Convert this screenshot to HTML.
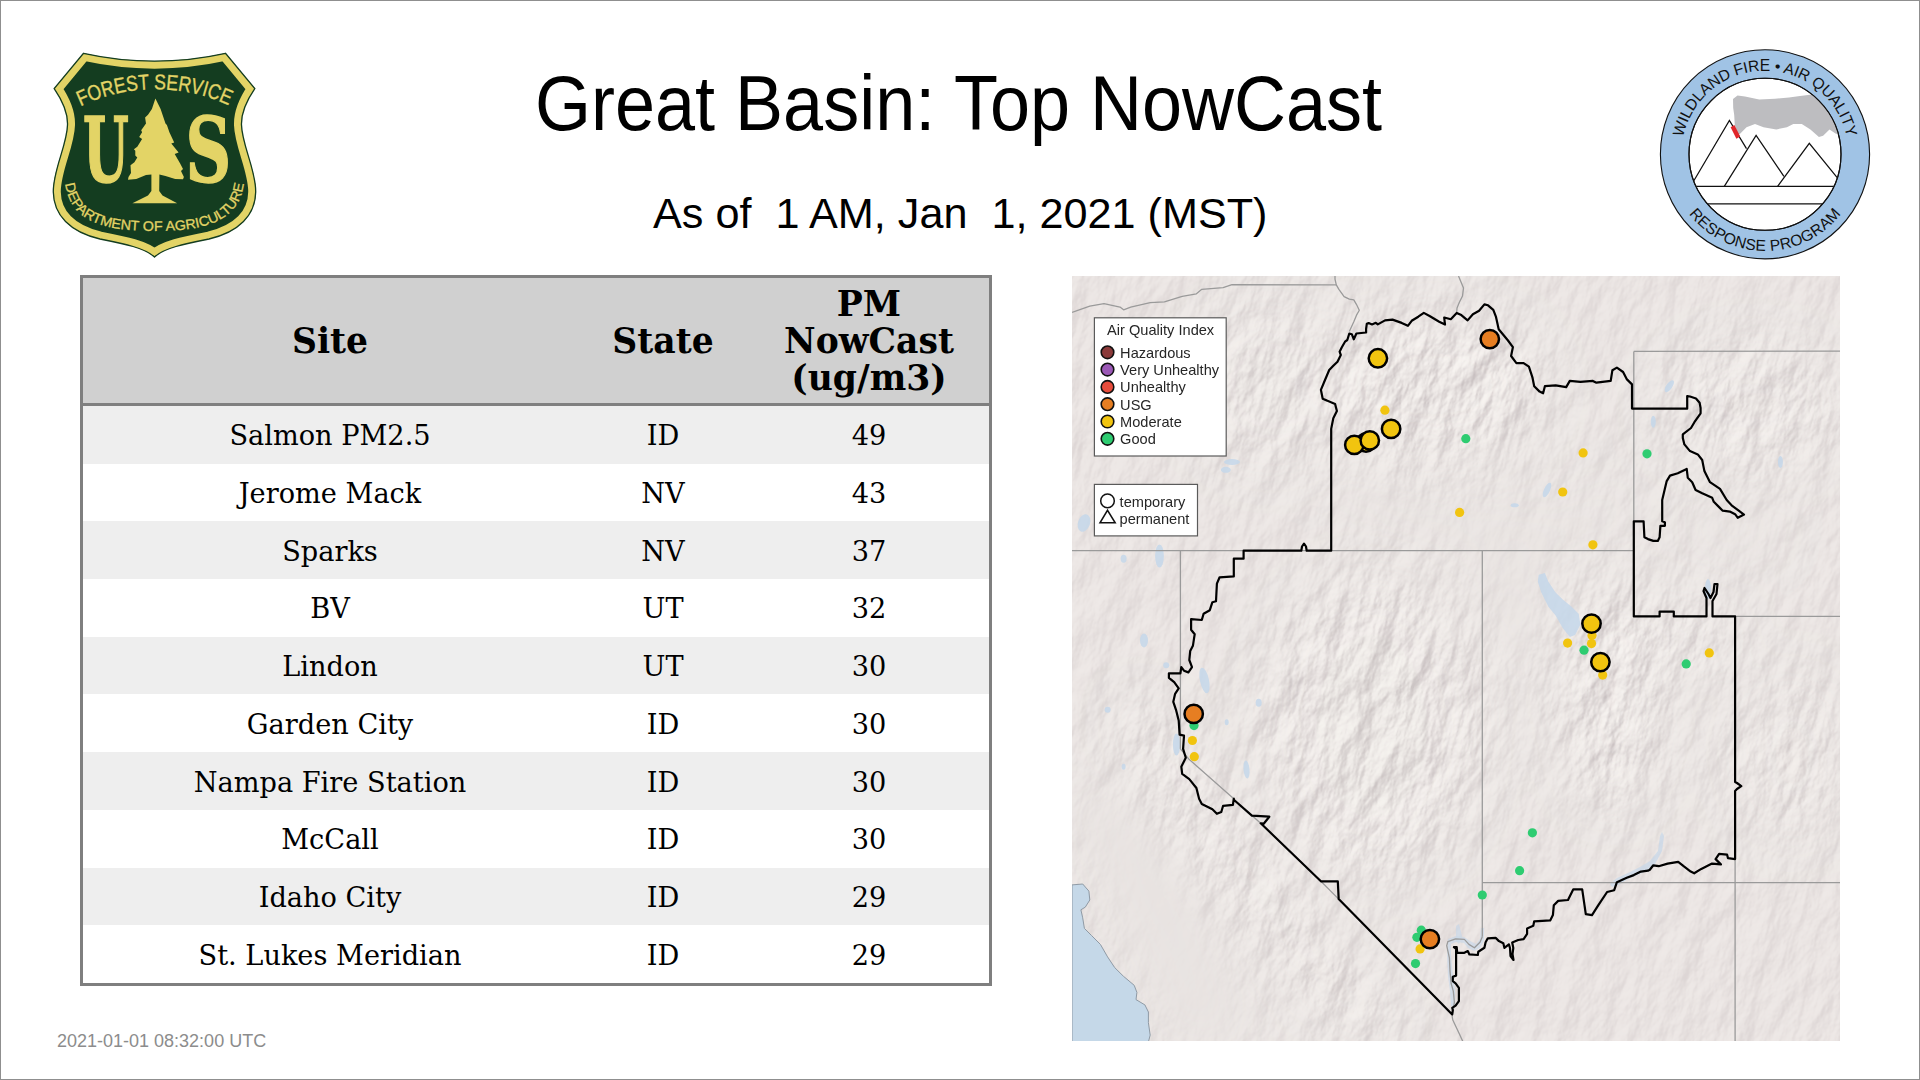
<!DOCTYPE html>
<html><head><meta charset="utf-8">
<style>
html,body{margin:0;padding:0;background:#fff;}
body{width:1920px;height:1080px;position:relative;overflow:hidden;}
#frame{position:absolute;left:0;top:0;width:1918px;height:1078px;border:1px solid #8f8f8f;}
.t{position:absolute;white-space:pre;font-family:"Liberation Sans",Arial,sans-serif;color:#000;line-height:1;}
#title{font-size:72px;left:535px;top:68.9px;transform:scaleY(1.068);transform-origin:0 60.9px;}
#sub{font-size:43.2px;left:653px;top:192px;}
#ts{font-size:18px;left:57px;top:1032px;color:#8c8c8c;}
#tbl{position:absolute;left:80px;top:275px;width:906px;height:705px;border:3px solid #7f7f7f;background:#fff;font-family:"DejaVu Serif",serif;}
#tbl .hd{position:absolute;left:0;top:0;width:906px;height:128px;background:#d0d0d0;border-bottom:3px solid #7f7f7f;font-weight:bold;font-size:34.6px;line-height:36.7px;display:flex;align-items:center;padding-top:2px;box-sizing:border-box;}
#tbl .r{position:absolute;left:0;width:906px;height:57.7px;display:flex;align-items:center;font-size:27.2px;line-height:30px;padding-top:3px;box-sizing:border-box;}
#tbl .o{background:#eeeeee;}
.c1,.c2,.c3{text-align:center;}
.c1{width:494px;}.c2{width:172px;}.c3{width:240px;}
#map{position:absolute;left:1072px;top:276px;width:768px;height:765px;}
</style></head>
<body>
<div id="frame"></div>

<!-- USFS shield -->
<svg id="usfs" style="position:absolute;left:40px;top:40px" width="230" height="230" viewBox="40 40 230 230">
<defs><clipPath id="shc"><path d="M83.5,53.3 Q154.5,69 225.5,53.3 L254.8,88.6 C247,100 241,112 241.5,125 C242,145 256,170 255.7,192 C255.4,215 239,232 209,239 C184,244 164,248 154.5,257 C145,248 125,244 100,239 C70,232 53.6,215 53.3,192 C53,170 67,145 67.5,125 C68,112 62,100 54.2,88.6 Z"/></clipPath><path id="arcTop" d="M80.5,106.2 A175.1,175.1 0 0,1 230.5,106.2"/><path id="arcBot" d="M64.5,170 C63.5,216 92,231 154.5,231 C217,231 245.5,216 244.5,170"/></defs>
<path d="M83.5,53.3 Q154.5,69 225.5,53.3 L254.8,88.6 C247,100 241,112 241.5,125 C242,145 256,170 255.7,192 C255.4,215 239,232 209,239 C184,244 164,248 154.5,257 C145,248 125,244 100,239 C70,232 53.6,215 53.3,192 C53,170 67,145 67.5,125 C68,112 62,100 54.2,88.6 Z" fill="#143d20"/>
<path d="M83.5,53.3 Q154.5,69 225.5,53.3 L254.8,88.6 C247,100 241,112 241.5,125 C242,145 256,170 255.7,192 C255.4,215 239,232 209,239 C184,244 164,248 154.5,257 C145,248 125,244 100,239 C70,232 53.6,215 53.3,192 C53,170 67,145 67.5,125 C68,112 62,100 54.2,88.6 Z" fill="none" stroke="#e3d466" stroke-width="15" clip-path="url(#shc)"/>
<path d="M83.5,53.3 Q154.5,69 225.5,53.3 L254.8,88.6 C247,100 241,112 241.5,125 C242,145 256,170 255.7,192 C255.4,215 239,232 209,239 C184,244 164,248 154.5,257 C145,248 125,244 100,239 C70,232 53.6,215 53.3,192 C53,170 67,145 67.5,125 C68,112 62,100 54.2,88.6 Z" fill="none" stroke="#143d20" stroke-width="1.3"/>
<path d="M155.4,98.5 L151.9,108.9 L148,114.7 L145.1,117.6 L146,123.5 L141.2,130.3 L142.1,132.2 L139.2,137.1 L142.1,139 L137.3,146.8 L133.9,149.2 L135.3,150.7 L135.3,155.5 L137.3,157.5 L134.4,162.3 L130.5,165.3 L131,173 L128.5,176.9 L128,179.8 L136.3,178.9 L146,175 L151.4,174.5 L151.4,191 L148,195.5 L132.4,203.2 L177.2,203.2 L162.5,195.5 L159.2,191 L159.4,174.5 L165.5,176 L175.2,178.9 L183,179.3 L183.9,176.9 L181,171.1 L183,169.1 L180,163.3 L174.7,154.1 L178.6,152.6 L171.3,143.4 L174.2,142.4 L169.4,132.2 L166.9,124.9 L165.5,123.5 L160.6,108.9 L155.4,98.5 Z" fill="#e3d466"/>
<text x="106" y="181.8" text-anchor="middle" font-family="DejaVu Serif, serif" font-weight="bold" font-size="90.5" fill="#e3d466" stroke="#e3d466" stroke-width="1.6" transform="translate(106 0) scale(0.58 1) translate(-106 0)">U</text>
<text x="208.5" y="181.8" text-anchor="middle" font-family="DejaVu Serif, serif" font-weight="bold" font-size="90.5" fill="#e3d466" stroke="#e3d466" stroke-width="1.4" transform="translate(208.5 0) scale(0.7 1) translate(-208.5 0)">S</text>
<text font-family="Liberation Sans, Arial, sans-serif" font-size="21.5" fill="#e3d466" stroke="#e3d466" stroke-width="0.35" ><textPath href="#arcTop" startOffset="0" textLength="153" lengthAdjust="spacingAndGlyphs">FOREST SERVICE</textPath></text>
<text font-family="Liberation Sans, Arial, sans-serif" font-size="13.8" fill="#e3d466" stroke="#e3d466" stroke-width="0.3"><textPath href="#arcBot" startOffset="50%" text-anchor="middle" textLength="224" lengthAdjust="spacingAndGlyphs">DEPARTMENT OF AGRICULTURE</textPath></text>
</svg>

<div class="t" id="title">Great Basin: Top NowCast</div>
<div class="t" id="sub">As of  1 AM, Jan  1, 2021 (MST)</div>

<!-- WFAQRP logo -->
<svg id="wf" style="position:absolute;left:1650px;top:40px" width="230" height="230" viewBox="1650 40 230 230">
<defs><path id="wtop" d="M1681.72,161.59 A83.6,83.6 0 1,1 1848.28,161.59"/><path id="wbot" d="M1685.87,209.71 A96.6,96.6 0 0,0 1844.13,209.71"/><clipPath id="inc"><circle cx="1765" cy="154.3" r="75.8"/></clipPath></defs>
<circle cx="1765" cy="154.3" r="104.6" fill="#a0c3e5" stroke="#111" stroke-width="1.1"/>
<circle cx="1765" cy="154.3" r="76" fill="#fff" stroke="#111" stroke-width="1.1"/>
<g clip-path="url(#inc)">
<path d="M1733,99 L1737.5,95.5 L1745,96.5 L1759.2,99.6 L1775,98.8 L1789,97.5 L1800,96 L1812,94.6 L1825,96 L1836,108 L1841,122 L1842,134 L1835.9,133.7 L1829.5,129.4 L1823.1,135.8 L1818.9,136.9 L1810.4,129.4 L1801.8,124.1 L1793.3,124.1 L1786.9,127.3 L1776.3,129.4 L1763.5,127.3 L1755,124.1 L1746.5,127.3 L1740.1,133.7 L1738,134.8 L1734.8,125.2 L1734.2,115 L1733.2,108 Z" fill="#bdbdc0"/>
<g fill="none" stroke="#111" stroke-width="1.25" stroke-linejoin="miter">
<path d="M1693.4,181.5 L1729.4,120.5 L1746.5,148.6"/>
<path d="M1724.3,186.4 L1756.1,135.4 L1783.9,176.4"/>
<path d="M1777.6,186.4 L1809.3,143.3 L1837.6,178.2"/>
<path d="M1690,186.4 L1840,186.4"/>
<path d="M1700,203.9 L1830,203.9"/>
</g>
<path d="M1730.6,127.2 L1734.4,125 L1740.2,136.6 L1736.4,138.8 Z" fill="#e0262a"/>
</g>
<circle cx="1765" cy="154.3" r="76" fill="none" stroke="#111" stroke-width="1.1"/>
<g font-family="Liberation Sans, Arial, sans-serif" font-size="15.6" fill="#111">
<text><textPath href="#wtop" startOffset="50%" text-anchor="middle" textLength="228" lengthAdjust="spacing">WILDLAND FIRE • AIR QUALITY</textPath></text>
<text><textPath href="#wbot" startOffset="50%" text-anchor="middle" textLength="175" lengthAdjust="spacing">RESPONSE PROGRAM</textPath></text>
</g>
</svg>

<div id="tbl">
<div class="hd"><div class="c1">Site</div><div class="c2">State</div><div class="c3">PM<br>NowCast<br>(ug/m3)</div></div>
<div class="r o" style="top:128.0px"><div class="c1">Salmon PM2.5</div><div class="c2">ID</div><div class="c3">49</div></div>
<div class="r" style="top:185.7px"><div class="c1">Jerome Mack</div><div class="c2">NV</div><div class="c3">43</div></div>
<div class="r o" style="top:243.4px"><div class="c1">Sparks</div><div class="c2">NV</div><div class="c3">37</div></div>
<div class="r" style="top:301.1px"><div class="c1">BV</div><div class="c2">UT</div><div class="c3">32</div></div>
<div class="r o" style="top:358.8px"><div class="c1">Lindon</div><div class="c2">UT</div><div class="c3">30</div></div>
<div class="r" style="top:416.5px"><div class="c1">Garden City</div><div class="c2">ID</div><div class="c3">30</div></div>
<div class="r o" style="top:474.2px"><div class="c1">Nampa Fire Station</div><div class="c2">ID</div><div class="c3">30</div></div>
<div class="r" style="top:531.9px"><div class="c1">McCall</div><div class="c2">ID</div><div class="c3">30</div></div>
<div class="r o" style="top:589.6px"><div class="c1">Idaho City</div><div class="c2">ID</div><div class="c3">29</div></div>
<div class="r" style="top:647.3px"><div class="c1">St. Lukes Meridian</div><div class="c2">ID</div><div class="c3">29</div></div>
</div>

<div class="t" id="ts">2021-01-01 08:32:00 UTC</div>

<svg id="map" width="768" height="765" viewBox="0 0 768 765">
<defs><filter id="relief" x="-250" y="-250" width="1268" height="1265" filterUnits="userSpaceOnUse" color-interpolation-filters="sRGB"><feTurbulence type="fractalNoise" baseFrequency="0.042 0.02" numOctaves="5" seed="11" result="nz"/><feColorMatrix in="nz" type="matrix" values="0 0 0 0 0  0 0 0 0 0  0 0 0 0 0  1 0 0 0 0" result="h"/><feDiffuseLighting in="h" surfaceScale="8" diffuseConstant="1" lighting-color="#ffffff" result="lt"><feDistantLight azimuth="210" elevation="45"/></feDiffuseLighting><feColorMatrix in="lt" type="matrix" values="0.1919 0 0 0 0.7794  0 0.2101 0 0 0.7470  0 0 0.1950 0 0.7498  0 0 0 0 1"/></filter><filter id="mblur" x="-50%" y="-50%" width="200%" height="200%"><feGaussianBlur stdDeviation="25"/></filter><mask id="mtn" maskUnits="userSpaceOnUse" x="0" y="0" width="768" height="765"><rect width="768" height="765" fill="#5a5a5a"/><g filter="url(#mblur)"><path d="M262,185 C300,200 340,215 380,232 C420,245 460,250 500,245 C520,240 535,225 545,205 L560,215 C545,250 520,268 480,272 C430,275 380,260 330,240 C300,228 275,215 255,200 Z" fill="#000"/><ellipse cx="440" cy="340" rx="28" ry="60" fill="#111"/><path d="M0,520 L71,519 L107,569 L135,633 L149,686 L171,740 L178,765 L100,765 L71,686 L43,633 L21,562 L0,545 Z" fill="#000"/><ellipse cx="660" cy="250" rx="40" ry="30" fill="#222"/><ellipse cx="360" cy="110" rx="110" ry="70" fill="#fff"/><ellipse cx="200" cy="110" rx="80" ry="80" fill="#bbb"/><path d="M70,420 C110,470 170,560 230,640 C260,690 290,720 320,740 L300,765 C260,740 200,660 150,590 C110,540 70,480 50,440 Z" fill="#fff"/><ellipse cx="300" cy="450" rx="110" ry="150" fill="#ddd"/><ellipse cx="540" cy="420" rx="45" ry="110" fill="#fff"/><ellipse cx="610" cy="360" rx="55" ry="25" fill="#eee"/><ellipse cx="680" cy="130" rx="90" ry="60" fill="#ccc"/><ellipse cx="720" cy="480" rx="60" ry="80" fill="#aaa"/></g></mask></defs>
<rect width="768" height="765" fill="#e9e4e2"/>
<g mask="url(#mtn)"><g transform="rotate(15 384 382)"><rect x="-250" y="-250" width="1268" height="1265" filter="url(#relief)"/></g></g>
<path d="M0.0,608.9 L10.7,608.0 L16.9,615.1 L17.8,624.0 L13.3,631.1 L8.9,633.8 L10.7,641.8 L12.4,652.4 L19.6,659.6 L28.4,668.4 L35.6,680.9 L42.7,691.6 L51.6,700.4 L62.2,709.3 L64.9,716.4 L64.0,723.6 L72.9,728.9 L76.4,736.0 L76.4,746.7 L78.2,759.1 L76.4,766.0 L0.0,766.0 Z" fill="#c5d8e8" stroke="#8f9aa5" stroke-width="1"/>
<g fill="#c4d7ea" stroke="none" opacity="0.85">
<path d="M466.7,298.7 L472.9,296.9 L476.4,305.8 L483.6,316.4 L490.7,323.6 L499.6,330.7 L506.7,337.8 L508.4,348.4 L503.1,359.1 L497.8,360.9 L490.7,352.0 L483.6,339.6 L476.4,330.7 L469.3,316.4 L465.8,305.8 Z"/>
<path d="M538.0,608.0 L545.0,602.0 L556.0,597.0 L568.0,591.0 L578.0,585.0 L586.0,575.0 L588.0,560.0 L590.0,556.0 L592.0,560.0 L590.0,575.0 L582.0,590.0 L570.0,597.0 L556.0,603.0 L546.0,609.0 L540.0,611.0 Z" opacity="0.8"/>
<path d="M376.0,663.0 L384.0,660.0 L392.0,661.0 L398.0,665.0 L404.0,668.0 L408.0,663.0 L409.0,652.0 L412.0,652.0 L412.0,664.0 L408.0,672.0 L402.0,675.0 L396.0,672.0 L392.0,667.0 L384.0,666.0 L379.0,668.0 L379.0,680.0 L381.0,700.0 L383.0,715.0 L383.0,730.0 L379.0,730.0 L378.0,715.0 L376.0,700.0 L375.0,680.0 Z" opacity="0.7"/>
<path d="M384.0,650.0 L387.0,648.0 L390.0,660.0 L387.0,668.0 L384.0,665.0 Z" opacity="0.7"/>
<ellipse cx="104.5" cy="468.5" rx="3.6" ry="11" transform="rotate(0 104.5 468.5)"/>
<ellipse cx="132.5" cy="404.5" rx="4.5" ry="13" transform="rotate(-12 132.5 404.5)"/>
<ellipse cx="87.5" cy="280" rx="4.4" ry="11.5" transform="rotate(0 87.5 280)"/>
<ellipse cx="12" cy="247" rx="6" ry="9" transform="rotate(20 12 247)"/>
<ellipse cx="51.6" cy="282.7" rx="3" ry="4" transform="rotate(0 51.6 282.7)"/>
<ellipse cx="72" cy="364.4" rx="4" ry="7" transform="rotate(0 72 364.4)"/>
<ellipse cx="35.6" cy="433.8" rx="3" ry="3" transform="rotate(0 35.6 433.8)"/>
<ellipse cx="51.6" cy="490.7" rx="2" ry="3" transform="rotate(0 51.6 490.7)"/>
<ellipse cx="174.5" cy="493.5" rx="3" ry="9" transform="rotate(-5 174.5 493.5)"/>
<ellipse cx="186.7" cy="426.7" rx="3" ry="4" transform="rotate(0 186.7 426.7)"/>
<ellipse cx="154.7" cy="446.2" rx="2" ry="3" transform="rotate(0 154.7 446.2)"/>
<ellipse cx="94.2" cy="389.3" rx="3" ry="3" transform="rotate(0 94.2 389.3)"/>
<ellipse cx="153.8" cy="193.8" rx="5" ry="3" transform="rotate(0 153.8 193.8)"/>
<ellipse cx="160" cy="186" rx="8" ry="3" transform="rotate(0 160 186)"/>
<ellipse cx="597.3" cy="110.2" rx="3" ry="7" transform="rotate(35 597.3 110.2)"/>
<ellipse cx="581.3" cy="145.8" rx="2.5" ry="6" transform="rotate(0 581.3 145.8)"/>
<ellipse cx="708.4" cy="186" rx="2.5" ry="6" transform="rotate(0 708.4 186)"/>
<ellipse cx="475" cy="214" rx="3" ry="8" transform="rotate(25 475 214)"/>
<ellipse cx="442.7" cy="229.3" rx="4" ry="2" transform="rotate(0 442.7 229.3)"/>
<ellipse cx="636" cy="313" rx="3" ry="10" transform="rotate(0 636 313)"/>
</g>
<g fill="none" stroke="#9a9a9a" stroke-width="1.3" stroke-linejoin="round">
<path d="M0.0,36.4 L17.8,30.2 L32.0,27.6 L48.0,31.1 L51.6,33.8 L58.7,31.1 L78.2,26.7 L92.4,25.8 L110.2,20.4 L124.4,17.8 L129.8,13.3 L151.1,11.6 L160.0,8.7 L264.3,8.9"/>
<path d="M263.0,0.0 L263.0,3.1 L264.3,8.9 L266.9,13.4 L272.1,20.6 L277.3,23.2 L281.8,23.8 L284.4,28.3 L287.3,34.2 L284.4,39.4 L281.8,45.8 L277.3,55.6"/>
<path d="M386.5,0.0 L389.0,6.0 L391.5,12.0 L390.5,20.0 L387.5,26.0 L385.0,32.0 L384.7,36.9"/>
<path d="M0.0,274.7 L561.8,274.7"/>
<path d="M561.8,75.4 L561.8,340.4"/>
<path d="M561.8,75.4 L768.0,75.2"/>
<path d="M663.1,340.4 L768.0,340.4"/>
<path d="M108.4,274.7 L108.4,472.9"/>
<path d="M108.4,472.9 L117.3,483.6 L161.8,522.7"/>
<path d="M179.9,539.6 L188.7,547.3"/>
<path d="M248.9,605.3 L266.7,623.1"/>
<path d="M410.3,274.7 L410.3,660.7"/>
<path d="M410.3,660.7 L408.0,666.2 L402.4,671.8 L396.9,668.4 L392.4,663.4 L383.6,662.9 L375.8,665.7 L374.7,669.6 L377.4,681.8 L378.0,695.1 L379.1,707.3 L381.3,715.1 L382.4,726.2 L380.2,740.7 L380.8,744.0 L386.0,755.0 L391.1,766.0"/>
<path d="M410.3,606.6 L768.0,606.6"/>
<path d="M663.1,583.1 L663.1,766.0"/>
</g>
<path d="M259.2,274.7 L259.2,152.9 L261.3,142.2 L264.9,135.1 L263.1,128.0 L250.7,122.7 L248.9,113.8 L253.0,104.0 L257.2,94.0 L261.3,89.8 L265.5,85.7 L268.8,79.0 L267.6,75.7 L269.7,71.5 L273.0,65.7 L275.3,64.0 L277.3,57.5 L279.8,58.2 L281.8,63.3 L284.4,57.5 L294.1,56.5 L294.1,53.0 L294.8,47.8 L296.7,47.1 L300.0,48.4 L303.8,46.8 L305.8,48.4 L313.0,44.4 L320.5,43.6 L329.7,46.9 L335.9,49.8 L339.7,44.8 L346.3,40.7 L351.8,36.9 L358.0,40.3 L367.2,45.7 L373.0,48.6 L372.2,41.5 L378.8,43.2 L384.7,36.9 L389.3,39.1 L395.6,44.4 L400.9,38.2 L407.1,34.7 L412.4,28.4 L416.0,29.3 L421.3,33.8 L424.0,40.9 L426.7,53.3 L435.6,64.0 L440.9,71.1 L439.1,80.0 L444.4,87.1 L451.6,87.1 L456.9,90.7 L460.4,101.3 L462.2,110.2 L467.6,115.6 L471.1,117.3 L472.9,110.2 L483.6,109.3 L494.2,111.1 L497.8,104.9 L508.4,105.8 L520.9,104.9 L524.4,106.7 L538.7,104.9 L540.4,94.2 L544.9,91.6 L551.1,96.0 L554.7,103.1 L560.0,108.4 L560.0,132.6 L615.2,132.7 L615.2,120.1 L618.0,120.5 L624.0,122.5 L627.6,126.7 L628.6,132.0 L628.6,137.3 L622.4,146.2 L619.0,152.0 L610.8,158.4 L610.8,162.0 L612.4,168.4 L618.0,175.1 L625.8,178.4 L630.2,184.0 L632.4,195.1 L638.0,206.2 L648.0,212.9 L654.7,224.0 L659.6,229.3 L666.7,234.7 L672.0,238.6 L665.8,241.8 L663.1,238.2 L657.8,235.6 L650.7,234.7 L647.1,231.1 L641.8,225.8 L640.2,221.8 L630.2,217.3 L623.6,214.0 L620.2,206.2 L615.8,201.8 L614.7,192.9 L605.8,197.3 L598.0,199.6 L594.7,205.1 L590.2,224.0 L590.2,245.3 L592.9,246.2 L592.9,249.8 L588.4,249.8 L587.6,261.3 L585.8,264.9 L581.3,264.9 L576.0,263.1 L572.4,261.3 L571.6,245.3 L561.8,245.3 L561.8,340.4 L587.6,340.4 L587.6,335.6 L601.8,335.6 L601.8,340.4 L634.5,340.4 L634.5,322.0 L631.5,315.0 L632.5,312.0 L636.5,318.0 L638.5,322.0 L641.5,316.0 L642.5,308.0 L645.5,308.0 L644.5,318.0 L640.5,325.0 L640.5,340.4 L663.1,340.4 L663.1,500.0 L663.1,506.0 L665.0,507.0 L669.3,510.2 L665.0,513.0 L663.1,515.0 L663.1,583.1 L656.0,582.2 L655.1,578.7 L647.1,577.8 L643.6,583.1 L648.9,588.4 L640.0,587.6 L629.3,592.9 L622.2,597.3 L618.7,595.6 L611.6,590.2 L606.2,585.8 L595.6,587.6 L586.7,590.2 L581.3,589.3 L577.8,593.8 L576.0,594.7 L568.9,595.6 L561.8,599.1 L554.7,601.8 L544.9,606.2 L542.2,614.2 L535.1,616.0 L526.2,629.3 L520.0,639.1 L513.8,638.2 L510.2,613.3 L501.3,613.3 L496.0,624.0 L486.2,624.9 L481.8,629.3 L480.9,639.1 L478.2,644.4 L462.2,645.3 L461.3,649.8 L455.1,652.4 L455.1,657.8 L451.6,663.1 L446.2,664.0 L440.2,666.5 L441.3,672.0 L440.5,678.0 L441.5,684.0 L438.5,680.0 L438.0,672.0 L436.9,668.4 L432.4,671.8 L431.3,667.3 L426.9,665.1 L423.6,661.8 L415.8,662.3 L413.6,666.2 L412.4,671.8 L406.3,675.7 L405.8,679.0 L397.4,678.4 L395.8,675.1 L392.4,676.8 L385.2,676.8 L384.7,671.2 L381.9,671.2 L384.1,672.9 L384.1,699.6 L380.8,700.7 L380.8,705.1 L383.6,707.3 L386.9,711.8 L386.9,725.1 L383.6,729.6 L380.2,731.8 L380.8,734.0 L380.2,738.4 L266.7,623.1 L265.8,605.3 L248.9,605.3 L188.7,547.3 L191.7,547.7 L197.3,540.7 L179.9,539.6 L162.1,524.0 L161.8,522.7 L160.9,528.9 L151.1,529.8 L149.3,536.0 L144.9,537.8 L140.4,533.3 L129.8,528.0 L127.1,522.7 L124.4,512.0 L117.3,503.1 L110.2,497.8 L109.3,490.7 L113.8,481.8 L111.1,472.9 L112.0,459.6 L107.6,458.7 L106.7,444.4 L104.0,433.8 L101.3,425.8 L103.1,417.8 L106.7,412.4 L102.2,406.2 L96.9,401.8 L96.9,397.3 L108.4,397.3 L109.3,391.1 L112.0,394.7 L116.4,396.4 L120.0,391.1 L117.3,384.0 L118.2,375.1 L120.9,369.8 L122.7,358.2 L119.1,353.8 L119.1,343.1 L129.8,344.0 L131.6,337.8 L137.8,334.2 L140.4,326.2 L144.0,325.3 L144.9,307.6 L147.6,301.3 L161.8,300.4 L161.8,282.7 L171.6,282.7 L171.6,274.7 L229.3,274.7 L230.0,270.5 L232.0,267.6 L234.0,270.5 L234.7,274.7 L259.2,274.7 Z" fill="none" stroke="#000" stroke-width="2.2" stroke-linejoin="round"/>
<rect x="22.4" y="41.8" width="131.8" height="138.2" fill="#fff" stroke="#5a5a5a" stroke-width="1.2"/>
<g font-family="Liberation Sans, Arial, sans-serif" font-size="14.6" fill="#262626">
<text x="35.1" y="58.8">Air Quality Index</text>
<circle cx="35.5" cy="76.3" r="6.3" fill="#8b3a3a" stroke="#111" stroke-width="1.6"/>
<text x="48.1" y="81.7">Hazardous</text>
<circle cx="35.5" cy="93.6" r="6.3" fill="#9b59b6" stroke="#111" stroke-width="1.6"/>
<text x="48.1" y="99.0">Very Unhealthy</text>
<circle cx="35.5" cy="110.9" r="6.3" fill="#e74c3c" stroke="#111" stroke-width="1.6"/>
<text x="48.1" y="116.3">Unhealthy</text>
<circle cx="35.5" cy="128.2" r="6.3" fill="#e67e22" stroke="#111" stroke-width="1.6"/>
<text x="48.1" y="133.6">USG</text>
<circle cx="35.5" cy="145.5" r="6.3" fill="#f1c40f" stroke="#111" stroke-width="1.6"/>
<text x="48.1" y="150.9">Moderate</text>
<circle cx="35.5" cy="162.8" r="6.3" fill="#2ecc71" stroke="#111" stroke-width="1.6"/>
<text x="48.1" y="168.2">Good</text>
</g>
<rect x="22.4" y="208.4" width="103.1" height="51.5" fill="#fff" stroke="#5a5a5a" stroke-width="1.2"/>
<g font-family="Liberation Sans, Arial, sans-serif" font-size="14.6" fill="#262626">
<circle cx="35.5" cy="224.9" r="6.8" fill="none" stroke="#111" stroke-width="1.5"/>
<path d="M28,246.8 L43.2,246.8 L35.5,234.3 Z" fill="none" stroke="#111" stroke-width="1.5" stroke-linejoin="miter"/>
<text x="47.6" y="230.6">temporary</text>
<text x="47.6" y="248.4">permanent</text>
</g>
<circle cx="393.8" cy="162.7" r="4.6" fill="#2ecc71"/>
<circle cx="511.1" cy="176.9" r="4.6" fill="#f1c40f"/>
<circle cx="575" cy="177.8" r="4.6" fill="#2ecc71"/>
<circle cx="312.9" cy="134.2" r="4.6" fill="#f1c40f"/>
<circle cx="490.7" cy="216" r="4.6" fill="#f1c40f"/>
<circle cx="387.6" cy="236.4" r="4.6" fill="#f1c40f"/>
<circle cx="520.9" cy="268.8" r="4.6" fill="#f1c40f"/>
<circle cx="520" cy="359.5" r="4.6" fill="#f1c40f"/>
<circle cx="495.6" cy="367.1" r="4.6" fill="#f1c40f"/>
<circle cx="519.5" cy="367.6" r="4.6" fill="#f1c40f"/>
<circle cx="512" cy="374.2" r="4.6" fill="#2ecc71"/>
<circle cx="530.7" cy="399.1" r="4.6" fill="#f1c40f"/>
<circle cx="614.2" cy="387.9" r="4.6" fill="#2ecc71"/>
<circle cx="637.3" cy="376.9" r="4.6" fill="#f1c40f"/>
<circle cx="460.4" cy="556.8" r="4.6" fill="#2ecc71"/>
<circle cx="447.6" cy="594.7" r="4.6" fill="#2ecc71"/>
<circle cx="410.3" cy="619" r="4.6" fill="#2ecc71"/>
<circle cx="122" cy="449.6" r="4.6" fill="#2ecc71"/>
<circle cx="120.4" cy="464.5" r="4.6" fill="#f1c40f"/>
<circle cx="122.3" cy="480.7" r="4.6" fill="#f1c40f"/>
<circle cx="349.3" cy="654.2" r="4.6" fill="#2ecc71"/>
<circle cx="344.9" cy="661.3" r="4.6" fill="#2ecc71"/>
<circle cx="348.1" cy="672.9" r="4.6" fill="#f1c40f"/>
<circle cx="343.5" cy="687.6" r="4.6" fill="#2ecc71"/>
<circle cx="288" cy="168" r="4.6" fill="#f1c40f"/>
<circle cx="305.9" cy="82.3" r="9.2" fill="#f1c40f" stroke="#000" stroke-width="2.5"/>
<circle cx="319.1" cy="152.9" r="9.2" fill="#f1c40f" stroke="#000" stroke-width="2.5"/>
<circle cx="294" cy="166.5" r="9.2" fill="#f1c40f" stroke="#000" stroke-width="2.5"/>
<circle cx="282.3" cy="168.9" r="9.2" fill="#f1c40f" stroke="#000" stroke-width="2.5"/>
<circle cx="297.8" cy="164.4" r="9.2" fill="#f1c40f" stroke="#000" stroke-width="2.5"/>
<circle cx="417.8" cy="63.1" r="9.2" fill="#e67e22" stroke="#000" stroke-width="2.5"/>
<circle cx="519.5" cy="347.6" r="9.2" fill="#f1c40f" stroke="#000" stroke-width="2.5"/>
<circle cx="528.4" cy="386.1" r="9.2" fill="#f1c40f" stroke="#000" stroke-width="2.5"/>
<circle cx="121.7" cy="437.9" r="9.2" fill="#e67e22" stroke="#000" stroke-width="2.5"/>
<circle cx="357.9" cy="663.1" r="9.2" fill="#e67e22" stroke="#000" stroke-width="2.5"/>
</svg>
</body></html>
